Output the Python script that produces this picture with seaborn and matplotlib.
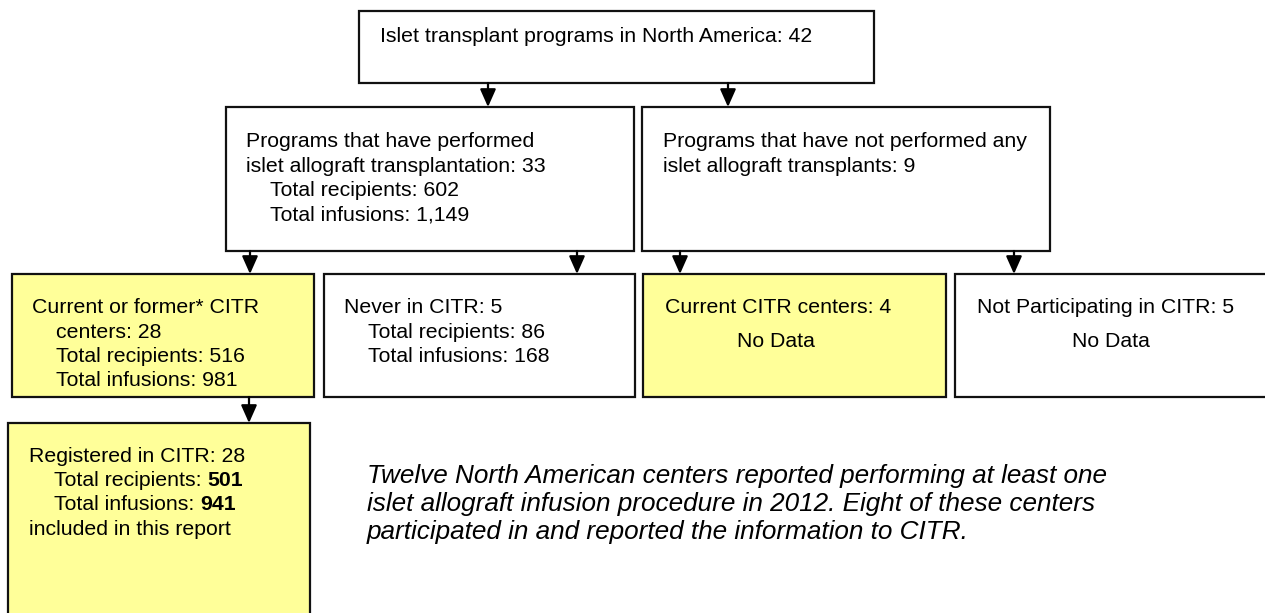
import matplotlib
matplotlib.use("Agg")
import matplotlib.pyplot as plt
import matplotlib.patches as mpatches
import seaborn as sns

sns.set_theme(style="white")
plt.rcParams['font.family'] = ['Liberation Sans', 'DejaVu Sans']
plt.rcParams['text.color'] = 'black'

# counts shown in the flow chart
total_programs = 42
performed = [33, 602, "1,149"]          # programs, recipients, infusions
not_performed = 9
citr_centers = [28, 516, 981]
never_citr = [5, 86, 168]
current_citr_no_tx = 4
not_participating = 5
registered = [28, 501, 941]

note_lines = [
    "Twelve North American centers reported performing at least one",
    "islet allograft infusion procedure in 2012. Eight of these centers",
    "participated in and reported the information to CITR.",
]

YELLOW = "#FFFF99"
W, H = 1265, 613

fig = plt.figure(figsize=(W / 100, H / 100), dpi=100)
ax = fig.add_axes([0, 0, 1, 1])
ax.set_xlim(0, W)
ax.set_ylim(H, 0)
ax.axis("off")

FS = 15.3
LH = 24.5


def box(l, t, r, b, color="white"):
    ax.add_patch(mpatches.Rectangle((l, t), r - l, b - t, facecolor=color,
                                    edgecolor="#111111", linewidth=1.6, zorder=2))


def arrow(x, y0, y1):
    ax.annotate("", xy=(x, y1), xytext=(x, y0),
                arrowprops=dict(arrowstyle="-|>,head_length=0.9,head_width=0.4",
                                color="black", lw=1.6, shrinkA=0, shrinkB=0),
                zorder=3)


def lines(x, y, rows, indent=24):
    # rows: list of (text, indented?)
    for i, (s, ind) in enumerate(rows):
        ax.text(x + (indent if ind else 0), y + i * LH, s, fontsize=FS,
                va="baseline", ha="left", zorder=4)


# boxes
box(359, 11, 874, 83)
box(226, 107, 634, 251)
box(642, 107, 1050, 251)
box(12, 274, 314, 397, YELLOW)
box(324, 274, 635, 397)
box(643, 274, 946, 397, YELLOW)
box(955, 274, 1275, 397)
box(8, 423, 310, 630, YELLOW)

# arrows
arrow(488, 83, 107)
arrow(728, 83, 107)
arrow(250, 251, 274)
arrow(577, 251, 274)
arrow(680, 251, 274)
arrow(1014, 251, 274)
arrow(249, 397, 423)

# text
lines(380, 42, [(f"Islet transplant programs in North America: {total_programs}", False)])
lines(246, 147, [("Programs that have performed", False),
                 (f"islet allograft transplantation: {performed[0]}", False),
                 (f"Total recipients: {performed[1]}", True),
                 (f"Total infusions: {performed[2]}", True)])
lines(663, 147, [("Programs that have not performed any", False),
                 (f"islet allograft transplants: {not_performed}", False)])
lines(32, 313, [("Current or former* CITR", False),
                (f"centers: {citr_centers[0]}", True),
                (f"Total recipients: {citr_centers[1]}", True),
                (f"Total infusions: {citr_centers[2]}", True)])
lines(344, 313, [(f"Never in CITR: {never_citr[0]}", False),
                 (f"Total recipients: {never_citr[1]}", True),
                 (f"Total infusions: {never_citr[2]}", True)])
ax.text(665, 313, f"Current CITR centers: {current_citr_no_tx}", fontsize=FS, va="baseline", zorder=4)
ax.text(737, 347, "No Data", fontsize=FS, va="baseline", zorder=4)
ax.text(977, 313, f"Not Participating in CITR: {not_participating}", fontsize=FS, va="baseline", zorder=4)
ax.text(1072, 347, "No Data", fontsize=FS, va="baseline", zorder=4)

# registered box with bold numbers
renderer = fig.canvas.get_renderer()
ax.text(29, 462, f"Registered in CITR: {registered[0]}", fontsize=FS, va="baseline", zorder=4)
for i, (lab, val) in enumerate([("Total recipients: ", registered[1]),
                                 ("Total infusions: ", registered[2])]):
    y = 486 + i * LH
    t = ax.text(54, y, lab, fontsize=FS, va="baseline", zorder=4)
    bb = t.get_window_extent(renderer)
    x_end = ax.transData.inverted().transform((bb.x1, bb.y0))[0]
    ax.text(x_end, y, str(val), fontsize=FS, fontweight="bold", va="baseline", zorder=4)
ax.text(29, 535, "included in this report", fontsize=FS, va="baseline", zorder=4)

# note
for i, s in enumerate(note_lines):
    ax.text(367, 483 + i * 28, s, fontsize=18.8, style="italic", va="baseline", zorder=4)

fig.savefig("out.png", dpi=100, facecolor="white")
